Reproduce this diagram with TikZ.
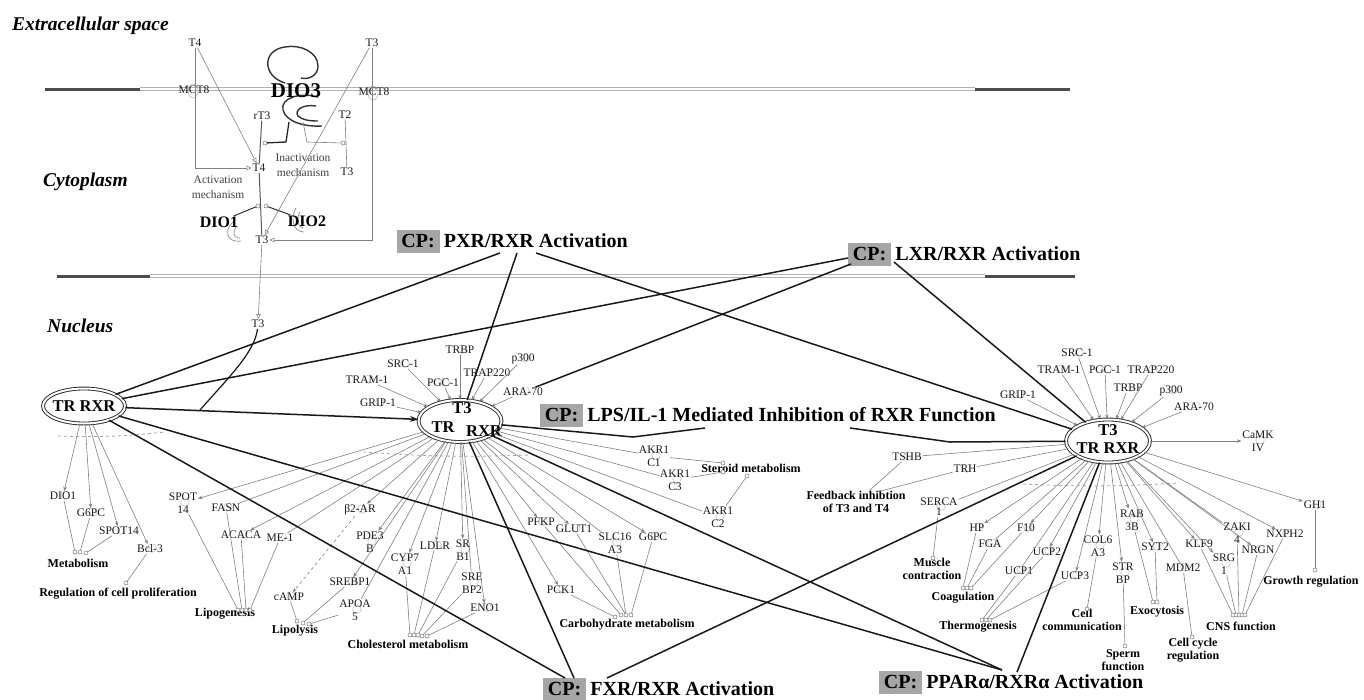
\documentclass[tikz,border=0pt]{standalone}
\usepackage{fontspec}
\setmainfont{Liberation Serif}
\usetikzlibrary{arrows.meta,shapes.geometric}
\begin{document}
\begin{tikzpicture}[x=1pt,y=-1pt,
  gene/.style={font=\fontsize{11.5}{13}\selectfont, text=black!90, inner sep=0.8pt, align=center,
    path picture={\draw[black!28, line width=0.5pt] ([xshift=2pt,yshift=1pt]path picture bounding box.center) circle (4.3pt);}},
  outc/.style={font=\bfseries\fontsize{12}{13.5}\selectfont, inner sep=0.8pt, align=center},
  sect/.style={font=\bfseries\itshape\fontsize{19.5}{21}\selectfont, anchor=base west, inner sep=0},
  hubE/.style={ellipse, draw=black!85, double=white, double distance=2pt, line width=0.9pt, inner sep=0},
  hubT/.style={font=\bfseries\fontsize{16.5}{18}\selectfont, inner sep=0, align=center},
  cpbox/.style={fill=black!35, font=\bfseries\fontsize{20}{22}\selectfont, minimum width=43pt, minimum height=23pt, inner sep=0},
  cptext/.style={font=\bfseries\fontsize{20}{22}\selectfont, inner sep=0, anchor=west},
  gl/.style={draw=black!50, line width=0.6pt},
  ga/.style={gl, -{Stealth[length=4.5pt,width=3.5pt]}},
  gao/.style={gl, -{Triangle[open,length=5pt,width=4.5pt]}},
  tk/.style={draw=black!90, line width=1.5pt},
  oc/.style={draw=black!55, fill=white, line width=0.5pt},
  bigb/.style={font=\bfseries\fontsize{16}{17}\selectfont, inner sep=0.5pt},
  swirl/.style={draw=black!45, line width=0.7pt},
  dios/.style={draw=black!80, line width=1.4pt},
  smallg/.style={font=\fontsize{11.5}{14.5}\selectfont, text=black!75, inner sep=0.5pt, align=center},
]
\useasboundingbox (0,0) rectangle (1364,699);

% ---------------- membranes
\draw[line width=3pt, black!70] (45,89) -- (140,89);
\draw[black!30, line width=0.7pt] (140,87.3) -- (975,87.3) (140,90.7) -- (975,90.7);
\draw[line width=3pt, black!70] (975,89) -- (1070,89);
\draw[line width=3pt, black!70] (57,276) -- (150,276);
\draw[black!30, line width=0.7pt] (150,274.3) -- (985,274.3) (150,277.7) -- (985,277.7);
\draw[line width=3pt, black!70] (985,276) -- (1075,276);

% ---------------- compartments
\node[sect] (sx) at (12,30) {Extracellular space};
\node[sect] (sc) at (43,186) {Cytoplasm};
\node[sect] (sn) at (47,332) {Nucleus};

% ---------------- top (thyroid hormone transport / deiodinases)
\draw[black!40] (193,91) ellipse (5 and 7);
\draw[black!40] (373,93) ellipse (5 and 7);
\node[gene, path picture={}] (t4e) at (195,43) {T4};
\node[gene, path picture={}] (t3e) at (372,43) {T3};
\node[gene, path picture={}] (mct8a) at (194,90) {MCT8};
\node[gene, path picture={}] (mct8b) at (374,92) {MCT8};
% DIO3 shape
\draw[dios] (285,83) .. controls (262,76) and (262,50) .. (285,47) .. controls (300,44) and (318,52) .. (318,66) .. controls (318,76) and (308,80) .. (301,78);
\draw[dios] (318,97) .. controls (300,92) and (280,98) .. (283,110) .. controls (286,122) and (305,127) .. (322,126);
\draw[dios] (316,106) .. controls (303,104) and (294,110) .. (298,116) .. controls (302,120) and (310,121) .. (318,121);
\node[font=\bfseries\fontsize{21}{22}\selectfont, inner sep=0.5pt] (dio3) at (296,91) {DIO3};
\node[gene, path picture={}] (rt3) at (262,116) {rT3};
\node[gene, path picture={}] (t2) at (345,115) {T2};
\node[gene, path picture={}] (t4m) at (259,168) {T4};
\node[gene, path picture={}] (t3m) at (347,172) {T3};
\node[smallg] (inact) at (303,165) {Inactivation\\mechanism};
\node[smallg] (act) at (218,187) {Activation\\mechanism};
\draw[swirl] (233,222) .. controls (224,230) and (226,243) .. (241,241);
\draw[swirl] (237,226) .. controls (232,232) and (233,238) .. (240,238);
\draw[swirl] (296,208) .. controls (290,218) and (293,232) .. (304,232);
\draw[swirl] (300,212) .. controls (296,218) and (298,228) .. (303,228);
\node[bigb] (dio1) at (219,222) {DIO1};
\node[bigb] (dio2) at (307,221) {DIO2};
\node[gene, path picture={}] (t3c) at (262,240) {T3};
\node[gene, path picture={}] (t3n) at (258,324) {T3};

\coordinate (c1) at (265,143);
\coordinate (c2) at (343,143);
\coordinate (d3a) at (289,122);
\coordinate (d3b) at (303,122);
\coordinate (k1) at (258,206);
\coordinate (k2) at (266,206);
\coordinate (j1) at (200,410);

\draw[gao] (t4e) |- (t4m);
\draw[gao] (t4e) -- (t4m);
\draw[gao] (t3e) |- (t3c);
\draw[gao] (t3e) -- (t3c);
\draw[black!65, line width=1pt] (rt3) -- (t4m);
\draw[black!65, line width=1pt] (t4m) -- (t3c);
\draw[gl] (t2) -- (t3m);
\draw[black!85, line width=1.3pt] (d3a) -- (286,142) -- (c1);
\draw[gl] (d3b) -- (307,142) -- (c2);
\draw[black!80, line width=1pt] (dio1) -- (k1);
\draw[black!80, line width=1pt] (dio2) -- (k2);
\draw[gao] (t3c) -- (t3n);
\draw[black!90, line width=1.2pt] (t3n) .. controls (255,352) and (228,378) .. (j1);
\foreach \p in {c1,c2,k1,k2} \draw[oc] (\p) circle (2pt);

% ---------------- hubs
\draw[black!35, dashed, line width=0.8pt] (58,436) to[bend right=4] (165,432);
\draw[black!35, dashed, line width=0.8pt] (363,452) to[bend right=3] (530,455);
\draw[black!35, dashed, line width=0.8pt] (1023,484) to[bend right=3] (1177,483);

\node[hubE, minimum width=82pt, minimum height=35pt] (l) at (84,406) {};
\node[hubT] (ltx) at (84,406) {TR RXR};
\node[hubE, minimum width=83pt, minimum height=42pt] (c) at (460,421) {};
\node[hubT] (ct1) at (462,408) {T3};
\node[hubT] (ct2) at (443,427) {TR};
\node[hubT] (ct3) at (484,431) {RXR};
\node[hubE, minimum width=84pt, minimum height=43pt] (r) at (1108,441) {};
\node[hubT] (rtx) at (1108,439) {T3\\TR RXR};

% ---------------- canonical pathway labels
\node[cpbox] (pxrb) at (418,241) {CP:};
\node[cptext] (pxrt) at ([xshift=4pt]pxrb.east) {PXR/RXR Activation};
\node[cpbox] (lxrb) at (869.5,254) {CP:};
\node[cptext] (lxrt) at ([xshift=4pt]lxrb.east) {LXR/RXR Activation};
\node[cpbox] (lpsb) at (561.5,415) {CP:};
\node[cptext] (lpst) at ([xshift=4pt]lpsb.east) {LPS/IL-1 Mediated Inhibition of RXR Function};
\node[cpbox] (fxrb) at (564.5,689) {CP:};
\node[cptext] (fxrt) at ([xshift=4pt]fxrb.east) {FXR/RXR Activation};
\node[cpbox] (ppb) at (900.5,682) {CP:};
\node[cptext] (ppt) at ([xshift=4pt]ppb.east) {PPARα/RXRα Activation};

\coordinate (pxrA) at (500,253);
\coordinate (pxrB) at (517,253);
\coordinate (pxrC) at (536,253);
\coordinate (lxrA) at (848,258);
\coordinate (lxrB) at (851,264);
\coordinate (lxrC) at (894,262);
\coordinate (lpsA) at (705,428);
\coordinate (lpsB) at (850,428);
\coordinate (fxrA) at (565,678);
\coordinate (fxrB) at (574,678);
\coordinate (fxrC) at (607,678);
\coordinate (ppA) at (1002,670);
\coordinate (ppB) at (1017,672);

% ---------------- center coactivators
\node[gene] (ctrbp) at (460,350) {TRBP};
\node[gene] (csrc) at (403,364) {SRC-1};
\node[gene] (ctram) at (367,380) {TRAM-1};
\node[gene] (cpgc) at (443,383) {PGC-1};
\node[gene] (ctrap) at (487,373) {TRAP220};
\node[gene] (cp300) at (523,359) {p300};
\node[gene] (cara) at (523,392) {ARA-70};
\node[gene] (cgrip) at (378,403) {GRIP-1};
\foreach \g in {ctrbp,csrc,ctram,cpgc,ctrap,cp300,cara,cgrip} \draw[ga] (\g) -- (c);

% ---------------- right coactivators
\node[gene] (rsrc) at (1077,353) {SRC-1};
\node[gene] (rtram) at (1059,370) {TRAM-1};
\node[gene] (rpgc) at (1105,370) {PGC-1};
\node[gene] (rtrap) at (1151,370) {TRAP220};
\node[gene] (rtrbp) at (1128,388) {TRBP};
\node[gene] (rp300) at (1171,391) {p300};
\node[gene] (rara) at (1194,407) {ARA-70};
\node[gene] (rgrip) at (1018,395) {GRIP-1};
\node[gene] (rcamk) at (1258,441) {CaMK\\IV};
\foreach \g in {rsrc,rtram,rpgc,rtrap,rtrbp,rp300,rara,rgrip} \draw[ga] (\g) -- (r);
\draw[ga] (r) -- (rcamk);

% ---------------- left hub targets
\node[gene] (ldio1) at (63,496) {DIO1};
\node[gene] (lg6pc) at (91,513) {G6PC};
\node[gene] (lspot) at (119,531) {SPOT14};
\node[gene] (lbcl) at (150,549) {Bcl-3};
\node[outc] (met) at (78,563) {Metabolism};
\node[outc] (rcp) at (118,594) {Regulation of cell proliferation};
\coordinate (m1) at (75,552);
\coordinate (m2) at (80,552);
\coordinate (m3) at (86,553);
\coordinate (rp1) at (126,583);
\foreach \g in {ldio1,lg6pc,lspot,lbcl} \draw[ga] (l) -- (\g);
\draw[gl] (ldio1) -- (m1);
\draw[gl] (lg6pc) -- (m2);
\draw[gl] (lspot) -- (m3);
\draw[gl] (lbcl) -- (rp1);

% ---------------- center hub targets
\node[gene] (spotb) at (183,503) {SPOT\\14};
\node[gene] (fasn) at (226,508) {FASN};
\node[gene] (acaca) at (241,535) {ACACA};
\node[gene] (me1) at (280,538) {ME-1};
\node[outc] (lipo) at (225,614) {Lipogenesis};
\node[gene] (b2ar) at (360,510) {β2-AR};
\node[gene] (pde3) at (370,542) {PDE3\\B};
\node[gene] (camp) at (289,597) {cAMP};
\node[gene] (srebp1) at (350,582) {SREBP1};
\node[gene] (apoa5) at (355,610) {APOA\\5};
\node[outc] (lipol) at (295,631) {Lipolysis};
\node[gene] (cyp) at (405,564) {CYP7\\A1};
\node[gene] (ldlr) at (435,546) {LDLR};
\node[gene] (srb1) at (463,550) {SR\\B1};
\node[gene] (srebp2) at (472,583) {SRE\\BP2};
\node[gene] (eno1) at (485,608) {ENO1};
\node[outc] (chol) at (408,644) {Cholesterol metabolism};
\node[gene] (pfkp) at (541,522) {PFKP};
\node[gene] (glut1) at (574,529) {GLUT1};
\node[gene] (slc) at (615,543) {SLC16\\A3};
\node[gene] (g6pcb) at (653,537) {G6PC};
\node[gene] (pck1) at (561,590) {PCK1};
\node[outc] (carb) at (627,625) {Carbohydrate metabolism};
\node[gene] (akc1) at (654,456) {AKR1\\C1};
\node[gene] (akc3) at (675,480) {AKR1\\C3};
\node[gene] (akc2) at (718,517) {AKR1\\C2};
\node[outc] (ster) at (751,468) {Steroid metabolism};

\foreach \g in {spotb,acaca,b2ar,pde3,srebp1,cyp,ldlr,srb1,eno1,pfkp,glut1,g6pcb,pck1} \draw[ga] (c) -- (\g);
\foreach \g in {fasn,me1,apoa5,srebp2,slc,akc1,akc3,akc2} \draw[gl] (c) -- (\g);
\draw[ga, dashed] (b2ar) -- (camp);

\coordinate (lp1) at (238,610); \coordinate (lp2) at (242,610);
\coordinate (lp3) at (246,610); \coordinate (lp4) at (250,610);
\draw[gl] (spotb) -- (lp1); \draw[gl] (fasn) -- (lp2);
\draw[gl] (acaca) -- (lp3); \draw[gl] (me1) -- (lp4);
\coordinate (ll1) at (297,621); \coordinate (ll2) at (303,623); \coordinate (ll3) at (309,624);
\draw[gl] (camp) -- (ll1); \draw[gl] (srebp1) -- (ll2); \draw[gl] (apoa5) -- (ll3);
\coordinate (ch1) at (410,635); \coordinate (ch2) at (414,635); \coordinate (ch3) at (418,635);
\coordinate (ch4) at (422,636); \coordinate (ch5) at (427,636);
\draw[gl] (cyp) -- (ch1); \draw[gl] (ldlr) -- (ch2); \draw[gl] (srb1) -- (ch3);
\draw[gl] (srebp2) -- (ch4); \draw[gl] (eno1) -- (ch5);
\coordinate (cb1) at (615,617); \coordinate (cb2) at (621,615);
\coordinate (cb3) at (626,615); \coordinate (cb4) at (631,615);
\draw[gl] (pck1) -- (cb1); \draw[gl] (pfkp) -- (cb2); \draw[gl] (glut1) -- (cb3);
\draw[gl] (slc) -- (cb3); \draw[gl] (g6pcb) -- (cb4);
\coordinate (st1) at (723,463); \coordinate (st2) at (723,472); \coordinate (st3) at (747,476);
\draw[gl] (akc1) -- (st1); \draw[gl] (akc3) -- (st2); \draw[gl] (akc2) -- (st3);

% ---------------- right hub targets
\node[gene] (tshb) at (907,457) {TSHB};
\node[gene] (trh) at (965,469) {TRH};
\node[outc] (fb) at (856,502) {Feedback inhibtion\\of T3 and T4};
\node[gene, font=\fontsize{11.5}{10}\selectfont] (serca) at (939,507) {SERCA\\1};
\node[outc] (musc) at (932,569) {Muscle\\contraction};
\node[gene] (hp) at (977,528) {HP};
\node[gene] (fga) at (990,544) {FGA};
\node[gene] (f10) at (1026,528) {F10};
\node[outc] (coag) at (963,598) {Coagulation};
\node[gene] (ucp2) at (1047,552) {UCP2};
\node[gene] (ucp1) at (1019,571) {UCP1};
\node[gene] (ucp3) at (1075,576) {UCP3};
\node[outc] (thermo) at (978,627) {Thermogenesis};
\node[gene] (col6) at (1098,546) {COL6\\A3};
\node[outc] (ccomm) at (1082,620) {Cell\\communication};
\node[gene] (strbp) at (1123,573) {STR\\BP};
\node[outc] (sperm) at (1123,660) {Sperm\\function};
\node[gene] (rab3b) at (1132,520) {RAB\\3B};
\node[gene] (syt2) at (1155,547) {SYT2};
\node[outc] (exo) at (1157,612) {Exocytosis};
\node[gene] (mdm2) at (1183,568) {MDM2};
\node[outc] (ccyc) at (1193,650) {Cell cycle\\regulation};
\node[gene] (klf9) at (1199,544) {KLF9};
\node[gene] (srg1) at (1224,564) {SRG\\1};
\node[gene] (zaki) at (1237,533) {ZAKI\\4};
\node[gene] (nrgn) at (1258,550) {NRGN};
\node[gene] (nxph2) at (1285,534) {NXPH2};
\node[outc] (cns) at (1241,626) {CNS function};
\node[gene] (gh1) at (1315,505) {GH1};
\node[outc] (growth) at (1311,582) {Growth regulation};

\foreach \g in {tshb,trh,serca,fga,ucp1,mdm2,zaki} \draw[gl] (r) -- (\g);
\foreach \g in {hp,f10,ucp2,ucp3,col6,strbp,rab3b,syt2,klf9,srg1,nrgn,nxph2,gh1} \draw[ga] (r) -- (\g);

\coordinate (fb1) at (870,490); \coordinate (fb2) at (877,492);
\draw[gl] (tshb) -- (fb1); \draw[gl] (trh) -- (fb2);
\coordinate (mu1) at (933,558);
\draw[gl] (serca) -- (mu1);
\coordinate (cg1) at (963,588); \coordinate (cg2) at (967,588); \coordinate (cg3) at (971,588);
\draw[gl] (hp) -- (cg1); \draw[gl] (fga) -- (cg2); \draw[gl] (f10) -- (cg3);
\coordinate (th1) at (982,620); \coordinate (th2) at (986,620); \coordinate (th3) at (990,620);
\draw[gl] (ucp1) -- (th1); \draw[gl] (ucp2) -- (th2); \draw[gl] (ucp3) -- (th3);
\coordinate (cc1) at (1087,609);
\draw[gl] (col6) -- (cc1);
\coordinate (sp1) at (1125,646);
\draw[gl] (strbp) -- (sp1);
\coordinate (ex1) at (1153,602); \coordinate (ex2) at (1157,602);
\draw[gl] (rab3b) -- (ex1); \draw[gl] (syt2) -- (ex2);
\coordinate (cy1) at (1192,637);
\draw[gl] (mdm2) -- (cy1);
\coordinate (cn1) at (1233,615); \coordinate (cn2) at (1236,615); \coordinate (cn3) at (1239,615);
\coordinate (cn4) at (1242,615); \coordinate (cn5) at (1245,615);
\draw[gl] (klf9) -- (cn1); \draw[gl] (srg1) -- (cn2); \draw[gl] (zaki) -- (cn3);
\draw[gl] (nrgn) -- (cn4); \draw[gl] (nxph2) -- (cn5);
\coordinate (gr1) at (1315,570);
\draw[gl] (gh1) -- (gr1);

\foreach \p in {m1,m2,m3,rp1,lp1,lp2,lp3,lp4,ll1,ll2,ll3,ch1,ch2,ch3,ch4,ch5,cb1,cb2,cb3,cb4,st1,st2,st3,mu1,cg1,cg2,cg3,th1,th2,th3,cc1,sp1,ex1,ex2,cy1,cn1,cn2,cn3,cn4,cn5,gr1}
  \draw[oc] (\p) circle (2pt);

% ---------------- thick pathway connectors
\draw[tk] (l) -- (pxrA);
\draw[tk] (l) -- (lxrA);
\draw[tk] (l) -- (ppA);
\draw[tk] (l) -- (fxrA);
\draw[tk, -{Stealth[length=8pt,width=6pt]}] (l) -- (c);
\draw[tk] (c) -- (pxrB);
\draw[tk] (lxrB) -- (cara);
\draw[tk] (c) -- (633,437) -- (lpsA);
\draw[tk] (c) -- (ppA);
\draw[tk] (c) -- (fxrB);
\draw[tk] (r) -- (pxrC);
\draw[tk] (r) -- (lxrC);
\draw[tk] (lpsB) -- (950,442) -- (r);
\draw[tk] (r) -- (fxrC);
\draw[tk] (r) -- (ppB);
\end{tikzpicture}
\end{document}
